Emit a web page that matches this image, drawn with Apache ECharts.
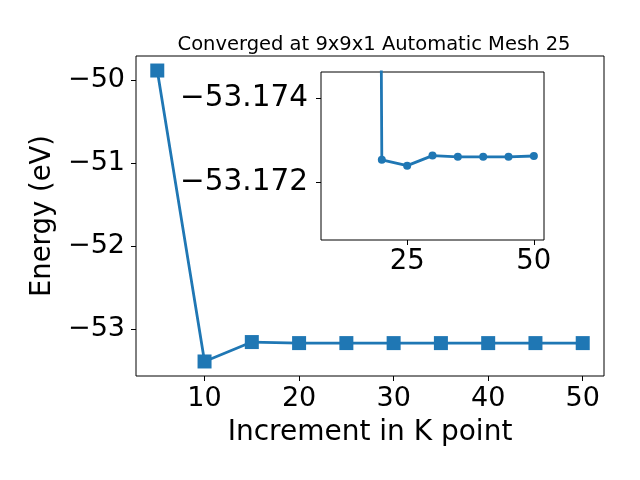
<!DOCTYPE html>
<html><head><meta charset="utf-8">
<script src="https://cdn.jsdelivr.net/npm/echarts@6/dist/echarts.min.js"></script>
<style>html,body{margin:0;padding:0;background:#fff}#c{width:640px;height:480px}</style>
</head><body><div id="c"></div>
<script>
var kPoints = [5, 10, 15, 20, 25, 30, 35, 40, 45, 50];
var energy = [-49.888, -53.394, -53.160, -53.17253, -53.17239, -53.17263, -53.17260, -53.17260, -53.17260, -53.17262];
var insetK = [10, 20, 25, 30, 35, 40, 45, 50];
var insetEnergy = [-53.394, -53.17253, -53.17239, -53.17263, -53.17260, -53.17260, -53.17260, -53.17262];
var mainXTicks = [10, 20, 30, 40, 50];
var mainYTicks = [-53, -52, -51, -50];
var insetXTicks = [25, 50];
var insetYTicks = [-53.174, -53.172];

function pairs(xs, ys){ return xs.map(function(x,i){return [x, ys[i]];}); }
function minus(s){ return String(s).replace('-', '\u2212'); }
var F = 'DejaVu Sans';
var C = '#1f77b4';

var chart = echarts.init(document.getElementById('c'));
chart.setOption({
  animation: false,
  backgroundColor: '#fff',
  title: {
    text: 'Converged at 9x9x1 Automatic Mesh 25',
    left: 369, top: 30, textAlign: 'center',
    textStyle: {fontFamily: F, fontSize: 19.5, fontWeight: 'normal', color: '#000'}
  },
  grid: [
    {left: 136, top: 56, right: 36, bottom: 104, show: true, borderColor: '#000', borderWidth: 1, backgroundColor: '#fff'},
    {left: 321, top: 72, right: 96, bottom: 240, show: true, borderColor: '#000', borderWidth: 1, backgroundColor: '#fff', z: 5}
  ],
  xAxis: [
    {gridIndex: 0, type: 'value', min: 2.75, max: 52.25,
      name: 'Increment in K point', nameLocation: 'middle', nameGap: 43,
      nameTextStyle: {fontFamily: F, fontSize: 28, color: '#000'},
      axisLine: {show: false}, splitLine: {show: false},
      axisTick: {show: true, length: 5, lineStyle: {color: '#000'}, customValues: mainXTicks},
      axisLabel: {fontFamily: F, fontSize: 27, color: '#000', margin: 9, customValues: mainXTicks}
    },
    {gridIndex: 1, type: 'value', min: 8, max: 52, z: 6,
      axisLine: {show: false}, splitLine: {show: false},
      axisTick: {show: true, length: 5, lineStyle: {color: '#000'}, customValues: insetXTicks},
      axisLabel: {fontFamily: F, fontSize: 27.5, color: '#000', margin: 8, customValues: insetXTicks}
    }
  ],
  yAxis: [
    {gridIndex: 0, type: 'value', min: -53.569, max: -49.713,
      name: 'Energy (eV)', nameLocation: 'middle', nameGap: 78, nameRotate: 90,
      nameTextStyle: {fontFamily: F, fontSize: 27.5, color: '#000'},
      axisLine: {show: false}, splitLine: {show: false},
      axisTick: {show: true, length: 5, lineStyle: {color: '#000'}, customValues: mainYTicks},
      axisLabel: {fontFamily: F, fontSize: 27, color: '#000', margin: 11, customValues: mainYTicks,
        formatter: function(v){ return minus(Math.round(v)); }}
    },
    {gridIndex: 1, type: 'value', min: -53.17462, max: -53.17062, inverse: true, z: 6,
      axisLine: {show: false}, splitLine: {show: false},
      axisTick: {show: true, length: 5, lineStyle: {color: '#000'}, customValues: insetYTicks},
      axisLabel: {fontFamily: F, fontSize: 29.5, color: '#000', margin: 13, customValues: insetYTicks,
        formatter: function(v){ return minus(v.toFixed(3)); }}
    }
  ],
  series: [
    {type: 'line', xAxisIndex: 0, yAxisIndex: 0, data: pairs(kPoints, energy),
      symbol: 'rect', symbolSize: 14, lineStyle: {color: C, width: 2.8},
      itemStyle: {color: C}, z: 3},
    {type: 'line', xAxisIndex: 1, yAxisIndex: 1, data: pairs(insetK, insetEnergy),
      symbol: 'circle', symbolSize: 8, clip: true, lineStyle: {color: C, width: 2.8},
      itemStyle: {color: C}, z: 7}
  ]
});
</script></body></html>
